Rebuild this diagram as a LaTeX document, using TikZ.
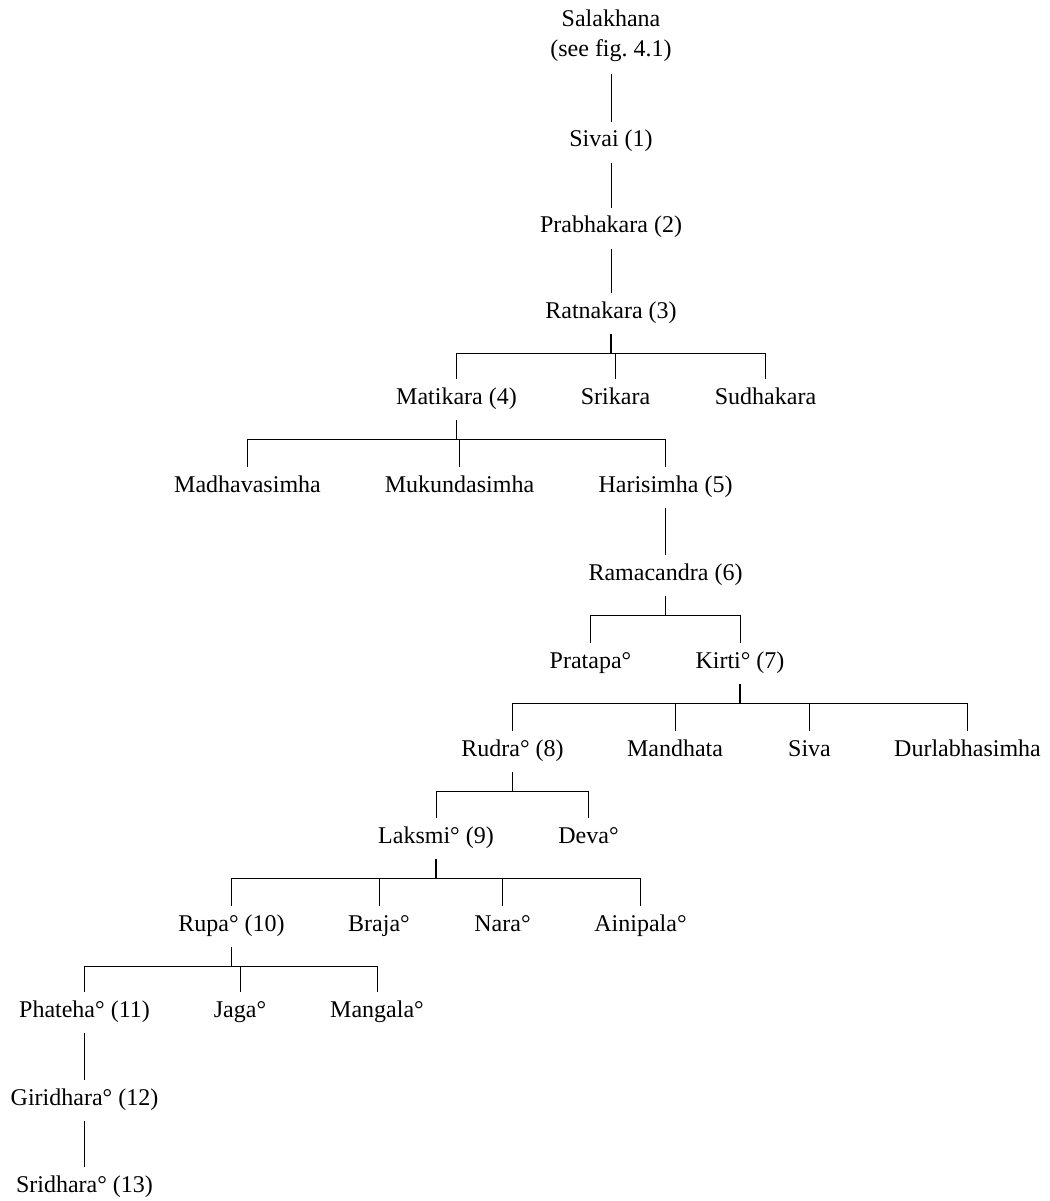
\documentclass[tikz,border=0pt]{standalone}
\usepackage{fontspec}
\setmainfont{Liberation Serif}
\usepackage{tikz}
\usetikzlibrary{positioning}
\usetikzlibrary{calc}

\tikzset{
	every node/.style={font=\fontsize{13.66pt}{17.07pt}\selectfont},
	person/.style={anchor=base, inner sep=0.24cm, text height=0.7em, text depth=0.2em},
	link/.style={line width=0.45pt},
	stem/.style={line width=0.7pt}
}

\begin{document}
\begin{tikzpicture}

	% ------------------------------------------------
	% Ensure the dimensions of graphic are appropriate
	\useasboundingbox (0,0) rectangle (20.98cm,-24.02cm);

	% ------------------------------------------------
	% Main line
	\node[anchor=south, align=center, inner sep=0.24cm] (Salakhana) at (12.22cm,-1.48cm) {Salakhana\\(see fig.~4.1)};
	\node[person] (Sivai)      at (12.22cm,-2.94cm) {Sivai (1)};
	\node[person] (Prabhakara) at (12.22cm,-4.66cm) {Prabhakara (2)};
	\node[person] (Ratnakara)  at (12.22cm,-6.36cm) {Ratnakara (3)};

	% ----------------
	% Sons of Ratnakara
	\node[person] (Matikara)  at (9.13cm,-8.08cm)  {Matikara (4)};
	\node[person] (Srikara)   at (12.31cm,-8.08cm) {Srikara};
	\node[person] (Sudhakara) at (15.31cm,-8.08cm) {Sudhakara};

	% ----------------
	% Sons of Matikara
	\node[person] (Madhava)   at (4.95cm,-9.84cm)  {Madhavasimha};
	\node[person] (Mukunda)   at (9.19cm,-9.84cm)  {Mukundasimha};
	\node[person] (Harisimha) at (13.31cm,-9.84cm) {Harisimha (5)};

	\node[person] (Ramacandra) at (13.31cm,-11.60cm) {Ramacandra (6)};

	% ----------------
	% Sons of Ramacandra
	\node[person] (Pratapa) at (11.81cm,-13.36cm) {Pratapa°};
	\node[person] (Kirti)   at (14.80cm,-13.36cm) {Kirti° (7)};

	% ----------------
	% Sons of Kirti
	\node[person] (Rudra)    at (10.25cm,-15.12cm) {Rudra° (8)};
	\node[person] (Mandhata) at (13.50cm,-15.12cm) {Mandhata};
	\node[person] (Siva)     at (16.19cm,-15.12cm) {Siva};
	\node[person] (Durlabha) at (19.35cm,-15.12cm) {Durlabhasimha};

	% ----------------
	% Sons of Rudra
	\node[person] (Laksmi) at (8.72cm,-16.86cm)  {Laksmi° (9)};
	\node[person] (Deva)   at (11.77cm,-16.86cm) {Deva°};

	% ----------------
	% Sons of Laksmi
	\node[person] (Rupa)     at (4.63cm,-18.62cm)  {Rupa° (10)};
	\node[person] (Braja)    at (7.58cm,-18.62cm)  {Braja°};
	\node[person] (Nara)     at (10.05cm,-18.62cm) {Nara°};
	\node[person] (Ainipala) at (12.81cm,-18.62cm) {Ainipala°};

	% ----------------
	% Sons of Rupa
	\node[person] (Phateha) at (1.69cm,-20.34cm) {Phateha° (11)};
	\node[person] (Jaga)    at (4.80cm,-20.34cm) {Jaga°};
	\node[person] (Mangala) at (7.54cm,-20.34cm) {Mangala°};

	\node[person] (Giridhara) at (1.69cm,-22.10cm) {Giridhara° (12)};
	\node[person] (Sridhara)  at (1.69cm,-23.84cm) {Sridhara° (13)};

	%%%%%%%%%%%%%%%%%%%%%%%%%%%%%%%%%%%%%%%%%
	% Single descents
	\draw[link] (Salakhana.south) -- (Sivai.north);
	\draw[link] (Sivai.south) -- (Prabhakara.north);
	\draw[link] (Prabhakara.south) -- (Ratnakara.north);
	\draw[link] (Harisimha.south) -- (Ramacandra.north);
	\draw[link] (Phateha.south) -- (Giridhara.north);
	\draw[link] (Giridhara.south) -- (Sridhara.north);

	%%%%%%%%%%%%%%%%%%%%%%%%%%%%%%%%%%%%%%%%%
	% Branchings
	\draw[stem] (Ratnakara.south) -- ++(0,-0.40cm) coordinate (RatnakaraBar);
	\draw[link] (RatnakaraBar) -| (Matikara.north);
	\draw[link] (RatnakaraBar) -| (Srikara.north);
	\draw[link] (RatnakaraBar) -| (Sudhakara.north);

	\draw[stem] (Matikara.south) -- ++(0,-0.40cm) coordinate (MatikaraBar);
	\draw[link] (MatikaraBar) -| (Madhava.north);
	\draw[link] (MatikaraBar) -| (Mukunda.north);
	\draw[link] (MatikaraBar) -| (Harisimha.north);

	\draw[stem] (Ramacandra.south) -- ++(0,-0.40cm) coordinate (RamacandraBar);
	\draw[link] (RamacandraBar) -| (Pratapa.north);
	\draw[link] (RamacandraBar) -| (Kirti.north);

	\draw[stem] (Kirti.south) -- ++(0,-0.40cm) coordinate (KirtiBar);
	\draw[link] (KirtiBar) -| (Rudra.north);
	\draw[link] (KirtiBar) -| (Mandhata.north);
	\draw[link] (KirtiBar) -| (Siva.north);
	\draw[link] (KirtiBar) -| (Durlabha.north);

	\draw[stem] (Rudra.south) -- ++(0,-0.40cm) coordinate (RudraBar);
	\draw[link] (RudraBar) -| (Laksmi.north);
	\draw[link] (RudraBar) -| (Deva.north);

	\draw[stem] (Laksmi.south) -- ++(0,-0.40cm) coordinate (LaksmiBar);
	\draw[link] (LaksmiBar) -| (Rupa.north);
	\draw[link] (LaksmiBar) -| (Braja.north);
	\draw[link] (LaksmiBar) -| (Nara.north);
	\draw[link] (LaksmiBar) -| (Ainipala.north);

	\draw[stem] (Rupa.south) -- ++(0,-0.40cm) coordinate (RupaBar);
	\draw[link] (RupaBar) -| (Phateha.north);
	\draw[link] (RupaBar) -| (Jaga.north);
	\draw[link] (RupaBar) -| (Mangala.north);

\end{tikzpicture}
\end{document}
